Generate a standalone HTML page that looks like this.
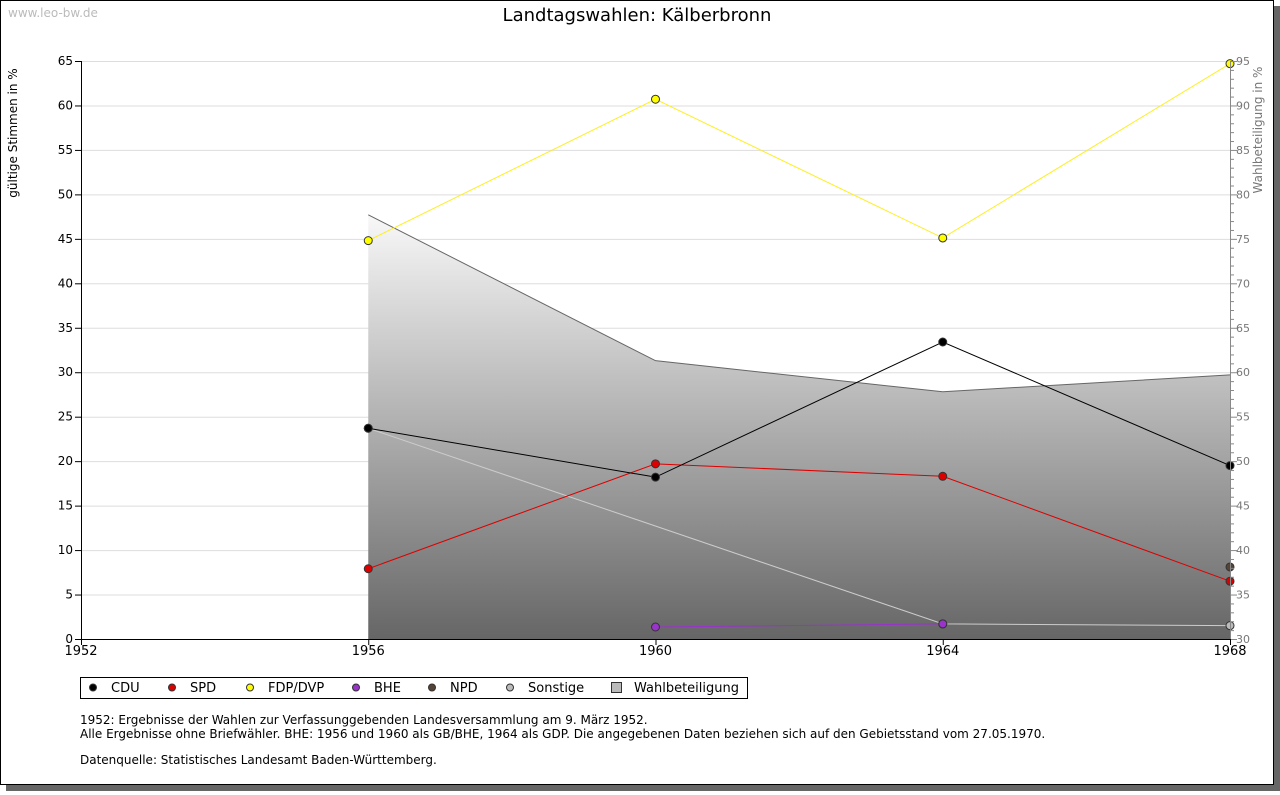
<!DOCTYPE html>
<html><head><meta charset="utf-8"><style>
body{margin:0;background:#fff;width:1280px;height:791px;overflow:hidden;font-family:"DejaVu Sans","Liberation Sans",sans-serif;}
svg text{font-family:"DejaVu Sans","Liberation Sans",sans-serif;}
</style></head><body>
<svg id="c" width="1280" height="791" xmlns="http://www.w3.org/2000/svg">
<defs><linearGradient id="g" x1="0" y1="0" x2="0" y2="1"><stop offset="0" stop-color="#f8f8f8"/><stop offset="1" stop-color="#666"/></linearGradient></defs>
<rect x="6" y="6" width="1274" height="785" fill="#666"/>
<rect x="0.5" y="0.5" width="1273" height="784" fill="#fff" stroke="#000"/>
<text x="8" y="17" font-size="12" fill="#bbb">www.leo-bw.de</text>
<text x="637" y="21" font-size="18" text-anchor="middle">Landtagswahlen: Kälberbronn</text>
<text transform="translate(17,133) rotate(-90)" font-size="12" text-anchor="middle">gültige Stimmen in %</text>
<text transform="translate(1262,130) rotate(-90)" font-size="12" fill="#777" text-anchor="middle">Wahlbeteiligung in %</text>
<g id="grid"></g><g id="area"></g><g id="series"></g><g id="axes"></g>
<g>
<rect x="80.5" y="677.5" width="667" height="21" fill="#fff" stroke="#000"/>
</g>
<g id="leg"></g>
<text x="80" y="724" font-size="12">1952: Ergebnisse der Wahlen zur Verfassunggebenden Landesversammlung am 9. März 1952.</text>
<text x="80" y="738" font-size="12">Alle Ergebnisse ohne Briefwähler. BHE: 1956 und 1960 als GB/BHE, 1964 als GDP. Die angegebenen Daten beziehen sich auf den Gebietsstand vom 27.05.1970.</text>
<text x="80" y="764" font-size="12">Datenquelle: Statistisches Landesamt Baden-Württemberg.</text>
</svg>
<script>
const years=[1952,1956,1960,1964,1968];
const cdu=[null,23.7,18.2,33.4,19.5];
const spd=[null,7.9,19.7,18.3,6.5];
const fdp=[null,44.8,60.7,45.1,64.7];
const bhe=[null,null,1.35,1.7,null];
const npd=[null,null,null,null,8.1];
const sonstige=[null,23.7,null,1.7,1.5];
const turnout=[null,77.7,61.3,57.8,59.7];
const leftTicks=[0,5,10,15,20,25,30,35,40,45,50,55,60,65];
const rightTicks=[30,35,40,45,50,55,60,65,70,75,80,85,90,95];
const NS='http://www.w3.org/2000/svg';
const X=y=>81+(y-1952)*(1230-81)/16;
const Y=v=>639-v*(578/65);
const Y2=v=>639-(v-30)*(578/65);
function mk(t,a,p){const e=document.createElementNS(NS,t);for(const k in a)e.setAttribute(k,a[k]);document.getElementById(p).appendChild(e);return e;}
leftTicks.forEach(v=>{
 if(v>0){const l=mk('line',{x1:81,x2:1230,y1:Y(v)+.5,y2:Y(v)+.5,stroke:'#ddd'},'grid');
 
 }
 mk('line',{x1:75,x2:81,y1:Y(v)+.5,y2:Y(v)+.5,stroke:'#000'},'axes');
 const t=mk('text',{x:73,y:Y(v)+4,'font-size':12,'text-anchor':'end'},'axes');t.textContent=v;
 
 
});
for(let v=30;v<=95;v++){mk('line',{x1:1230,x2:v%5?1234:1237,y1:Y2(v)+.5,y2:Y2(v)+.5,stroke:'#888'},'axes');}
rightTicks.forEach(v=>{const t=mk('text',{x:1236,y:Y2(v)+4,'font-size':11,fill:'#777'},'axes');t.textContent=v;
 
 });
mk('line',{x1:81.5,x2:81.5,y1:61,y2:639,stroke:'#000'},'axes');
mk('line',{x1:1230.5,x2:1230.5,y1:61,y2:639,stroke:'#888'},'axes');
mk('line',{x1:81,x2:1231,y1:639.5,y2:639.5,stroke:'#000'},'axes');
years.forEach(y=>{mk('line',{x1:X(y)+.5,x2:X(y)+.5,y1:639,y2:645,stroke:'#000'},'axes');
 const t=mk('text',{x:X(y),y:655,'font-size':13,'text-anchor':'middle'},'axes');t.textContent=y;
 
 });
let pts=[],first=null,last=null;
turnout.forEach((v,i)=>{if(v!=null){pts.push(X(years[i])+','+Y2(v));if(first==null)first=i;last=i;}});
const a=mk('polygon',{points:X(years[first])+',639 '+pts.join(' ')+' '+X(years[last])+',639',fill:'url(#g)'},'area');


const al=mk('polyline',{points:pts.join(' '),fill:'none',stroke:'#666'},'area');


function series(arr,col,name,lineCol){
 const p=[];arr.forEach((v,i)=>{if(v!=null)p.push([X(years[i]),Y(v)]);});
 if(p.length>1){const l=mk('polyline',{points:p.map(q=>q.join(',')).join(' '),fill:'none',stroke:lineCol||col},'series');
 
 }
 p.forEach(q=>{const m=mk('circle',{cx:q[0],cy:q[1],r:4,fill:col,stroke:'#333'},'series');
 
 });
}
series(sonstige,'#bbb','sonstige','#ccc');
series(bhe,'#9933cc','bhe');
series(npd,'#554433','npd');
series(spd,'#dd0000','spd');
series(cdu,'#000','cdu');
series(fdp,'#ffff00','fdp','#ffee22');
const leg=[['CDU','#000',93],['SPD','#dd0000',172],['FDP/DVP','#ffff00',250],['BHE','#9933cc',356],['NPD','#554433',432],['Sonstige','#bbb',510]];
leg.forEach(([n,c,x])=>{mk('circle',{cx:x,cy:687.5,r:3.5,fill:c,stroke:'#333'},'leg');
 const t=mk('text',{x:x+18,y:692,'font-size':13},'leg');t.textContent=n;
 
 });
mk('rect',{x:611.5,y:682.5,width:10,height:10,fill:'#bbb',stroke:'#333'},'leg');
const lt=mk('text',{x:634,y:692,'font-size':13},'leg');lt.textContent='Wahlbeteiligung';


</script>
</body></html>
